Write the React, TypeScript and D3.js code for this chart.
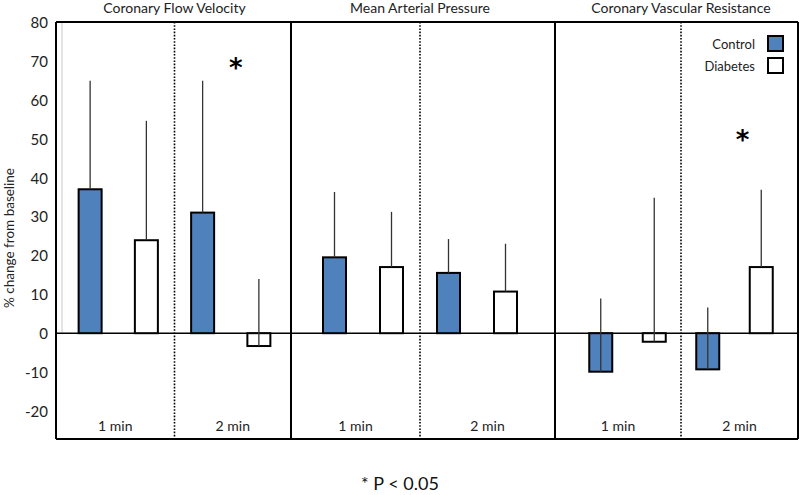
import React from "react";
import * as d3 from "d3";

const panels = ["Coronary Flow Velocity", "Mean Arterial Pressure", "Coronary Vascular Resistance"];
const timepoints = ["1 min", "2 min"];
const seriesNames = ["Control", "Diabetes"];
// values per panel x timepoint: [p0 1min, p0 2min, p1 1min, p1 2min, p2 1min, p2 2min]
const controlMeans = [37.0, 31.0, 19.5, 15.5, -9.9, -9.3];
const controlSD = [27.9, 33.9, 16.8, 8.7, 18.8, 15.9];
const diabetesMeans = [23.9, -3.3, 17.0, 10.7, -2.2, 17.0];
const diabetesSD = [30.7, 17.2, 14.2, 12.3, 37.0, 19.9];
const sigPanels = [0, 2];
const sigTimes = [1, 1];
const sigY = [69.5, 51];
const yTicks = [-20, -10, 0, 10, 20, 30, 40, 50, 60, 70, 80];

const W = 800, H = 495;
const TOP = 22, BOTTOM = 439;
const panelEdges = [56, 291, 555, 798];
const barRanges: [number, number][] = [[62, 287], [306, 534], [574, 788]];
const BAR_W = 23;
const BLUE = "#4f81bd";
const FONT = "Lato, 'Open Sans', sans-serif";

export default function App() {
  const y = d3.scaleLinear().domain([-27.2, 80]).range([BOTTOM, TOP]);
  const keys: string[] = [];
  timepoints.forEach((t) => seriesNames.forEach((s) => keys.push(t + "|" + s)));
  const xs = barRanges.map((r) => d3.scalePoint<string>().domain(keys).range(r).padding(0.5));
  const y0 = y(0);

  const bars: any[] = [];
  panels.forEach((p, pi) => {
    timepoints.forEach((t, ti) => {
      const idx = pi * 2 + ti;
      [
        { s: seriesNames[0], m: controlMeans[idx], sd: controlSD[idx], fill: BLUE },
        { s: seriesNames[1], m: diabetesMeans[idx], sd: diabetesSD[idx], fill: "#ffffff" },
      ].forEach((b) => {
        const cx = xs[pi](t + "|" + b.s)!;
        bars.push({ key: `${pi}-${ti}-${b.s}`, cx, ...b });
      });
    });
  });

  return (
    <svg width={W} height={H} style={{ position: "absolute", left: 0, top: 0, background: "#fff" }} fontFamily={FONT}>
      <rect x={0} y={0} width={W} height={H} fill="#fff" />
      {/* faint original axis */}
      <line x1={62} x2={62} y1={TOP} y2={y0} stroke="#c8c8c8" strokeWidth={1} />
      {/* zero line */}
      <line x1={panelEdges[0]} x2={panelEdges[3]} y1={y0} y2={y0} stroke="#000" strokeWidth={1.5} />
      {/* bars */}
      {bars.map((b) => (
        <rect key={b.key} x={b.cx - BAR_W / 2} y={Math.min(y(b.m), y0)} width={BAR_W}
          height={Math.abs(y(b.m) - y0)} fill={b.fill} stroke="#000" strokeWidth={2} />
      ))}
      {/* error bars */}
      {bars.map((b) => (
        <line key={"e" + b.key} x1={b.cx} x2={b.cx} y1={y(b.m)} y2={y(b.m + b.sd)} stroke="#333" strokeWidth={1.3} />
      ))}
      {/* dividers */}
      {barRanges.map((r, i) => {
        const mx = (r[0] + r[1]) / 2;
        return <line key={"d" + i} x1={mx} x2={mx} y1={TOP} y2={BOTTOM} stroke="#000" strokeWidth={1.6} strokeDasharray="1.6,1.6" />;
      })}
      {/* frame */}
      <line x1={panelEdges[0]} x2={panelEdges[3]} y1={TOP} y2={TOP} stroke="#000" strokeWidth={2} />
      <line x1={panelEdges[0]} x2={panelEdges[3]} y1={BOTTOM} y2={BOTTOM} stroke="#000" strokeWidth={2} />
      {panelEdges.map((e, i) => (
        <line key={"pe" + i} x1={e} x2={e} y1={TOP} y2={BOTTOM} stroke="#000" strokeWidth={2} />
      ))}
      {/* y ticks */}
      {yTicks.map((t) => (
        <text key={"t" + t} x={48} y={y(t)} textAnchor="end" dominantBaseline="central" fontSize={15} fill="#222">{t}</text>
      ))}
      <text transform={`translate(9,${238}) rotate(-90)`} textAnchor="middle" dominantBaseline="central" fontSize={13.5} fill="#222">% change from baseline</text>
      {/* panel titles */}
      {panels.map((p, i) => {
        const mx = (barRanges[i][0] + barRanges[i][1]) / 2;
        return <text key={"pt" + i} x={mx} y={13} textAnchor="middle" fontSize={14} fill="#222">{p}</text>;
      })}
      {/* time labels */}
      {panels.map((p, pi) => {
        const mx = (barRanges[pi][0] + barRanges[pi][1]) / 2;
        const bounds = [[panelEdges[pi], mx], [mx, panelEdges[pi + 1]]];
        return timepoints.map((t, ti) => (
          <text key={`tl${pi}${ti}`} x={(bounds[ti][0] + bounds[ti][1]) / 2} y={431} textAnchor="middle" fontSize={14} fill="#222">{t}</text>
        ));
      })}
      {/* significance */}
      {sigPanels.map((p, i) => {
        const mx = (barRanges[p][0] + barRanges[p][1]) / 2;
        const bounds = [[panelEdges[p], mx], [mx, panelEdges[p + 1]]][sigTimes[i]];
        return <text key={"s" + i} x={(bounds[0] + bounds[1]) / 2 + 3} y={y(sigY[i])} textAnchor="middle" fontFamily="'DejaVu Sans', sans-serif" fontSize={26} fontWeight="bold" dy={14} fill="#000">*</text>;
      })}
      {/* legend */}
      {seriesNames.map((s, i) => (
        <g key={"lg" + i}>
          <text x={755} y={44 + i * 22} textAnchor="end" dominantBaseline="central" fontSize={13} fill="#222">{s}</text>
          <rect x={768} y={36 + i * 22} width={15} height={15} fill={i === 0 ? BLUE : "#fff"} stroke="#000" strokeWidth={2} />
        </g>
      ))}
      <text x={400} y={490} textAnchor="middle" fontSize={18} fill="#111">* P &lt; 0.05</text>
    </svg>
  );
}
